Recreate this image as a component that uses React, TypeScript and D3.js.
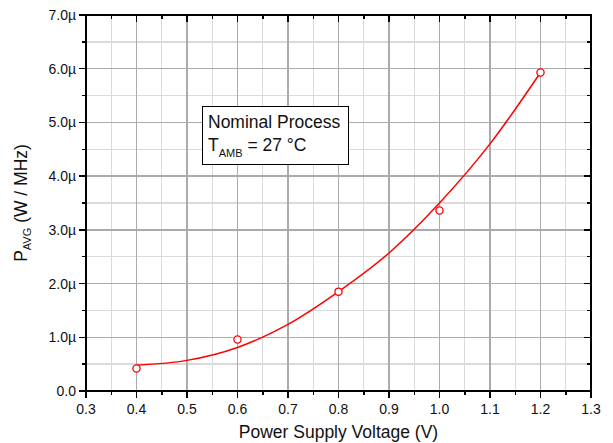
import React from 'react';
import * as d3 from 'd3';

// measured points (µW / MHz) vs supply voltage
const voltage = [0.4, 0.6, 0.8, 1.0, 1.2];
const power = [0.42, 0.96, 1.85, 3.36, 5.93];

// fitted curve
const fitVoltage = [0.4, 0.5, 0.6, 0.7, 0.8, 0.9, 1.0, 1.1, 1.2];
const fitPower = [0.48, 0.57, 0.81, 1.24, 1.85, 2.57, 3.5, 4.6, 5.93];

const xTicks = [0.3, 0.4, 0.5, 0.6, 0.7, 0.8, 0.9, 1.0, 1.1, 1.2, 1.3];
const xMinor = [0.35, 0.45, 0.55, 0.65, 0.75, 0.85, 0.95, 1.05, 1.15, 1.25];
const yTicks = [0, 1, 2, 3, 4, 5, 6, 7];
const yMinor = [0.5, 1.5, 2.5, 3.5, 4.5, 5.5, 6.5];

const W = 613;
const H = 443;
const m = { left: 86, right: 22, top: 15, bottom: 52 };
const font = '"Liberation Sans", Arial, sans-serif';

export default function App() {
  const x = d3.scaleLinear().domain([0.3, 1.3]).range([m.left, W - m.right]);
  const y = d3.scaleLinear().domain([0, 7]).range([H - m.bottom, m.top]);
  const x0 = m.left, x1 = W - m.right, y0 = H - m.bottom, y1 = m.top;

  const line = d3.line<number>()
    .x((d, i) => x(fitVoltage[i]))
    .y((d) => y(d))
    .curve(d3.curveMonotoneX);

  const yLabel = (v: number) => (v === 0 ? '0.0' : d3.format('.1f')(v) + 'µ');

  return (
    <svg width={W} height={H} style={{ position: 'absolute', left: 0, top: 0, background: '#fff' }}>
      {/* grid */}
      <g shapeRendering="crispEdges">
        {xMinor.map((v) => (
          <line key={'xm' + v} x1={x(v)} x2={x(v)} y1={y0} y2={y1} stroke="#dadada" strokeWidth={1.3} />
        ))}
        {yMinor.map((v) => (
          <line key={'ym' + v} x1={x0} x2={x1} y1={y(v)} y2={y(v)} stroke="#dadada" strokeWidth={1.3} />
        ))}
        {xTicks.map((v) => (
          <line key={'xg' + v} x1={x(v)} x2={x(v)} y1={y0} y2={y1} stroke="#ababab" strokeWidth={1.3} />
        ))}
        {yTicks.map((v) => (
          <line key={'yg' + v} x1={x0} x2={x1} y1={y(v)} y2={y(v)} stroke="#ababab" strokeWidth={1.3} />
        ))}
      </g>

      {/* ticks */}
      <g stroke="#000" strokeWidth={1.5} shapeRendering="crispEdges">
        {xTicks.map((v) => (
          <g key={'xt' + v}>
            <line x1={x(v)} x2={x(v)} y1={y0} y2={y0 + 7} />
            <line x1={x(v)} x2={x(v)} y1={y1} y2={y1 + 7} />
          </g>
        ))}
        {xMinor.map((v) => (
          <g key={'xmt' + v}>
            <line x1={x(v)} x2={x(v)} y1={y0} y2={y0 + 4} />
            <line x1={x(v)} x2={x(v)} y1={y1} y2={y1 + 4} />
          </g>
        ))}
        {yTicks.map((v) => (
          <g key={'yt' + v}>
            <line x1={x0 - 7} x2={x0} y1={y(v)} y2={y(v)} />
            <line x1={x1 - 7} x2={x1} y1={y(v)} y2={y(v)} />
          </g>
        ))}
        {yMinor.map((v) => (
          <g key={'ymt' + v}>
            <line x1={x0 - 4} x2={x0} y1={y(v)} y2={y(v)} />
            <line x1={x1 - 4} x2={x1} y1={y(v)} y2={y(v)} />
          </g>
        ))}
        <rect x={x0} y={y1} width={x1 - x0} height={y0 - y1} fill="none" />
      </g>

      {/* tick labels */}
      <g fontFamily={font} fontSize={14} fill="#111">
        {xTicks.map((v) => (
          <text key={'xl' + v} x={x(v)} y={y0 + 23} textAnchor="middle">
            {d3.format('.1f')(v)}
          </text>
        ))}
        {yTicks.map((v) => (
          <text key={'yl' + v} x={x0 - 10} y={y(v) + 5} textAnchor="end">
            {yLabel(v)}
          </text>
        ))}
      </g>

      {/* axis titles */}
      <text x={(x0 + x1) / 2} y={438} textAnchor="middle" fontFamily={font} fontSize={17.5} fill="#111">
        Power Supply Voltage (V)
      </text>
      <text
        transform={`translate(27, ${(y0 + y1) / 2}) rotate(-90)`}
        textAnchor="middle"
        fontFamily={font}
        fontSize={17.5}
        fill="#111"
      >
        P<tspan fontSize={11} dy={4}>AVG</tspan>
        <tspan dy={-4}> (W / MHz)</tspan>
      </text>

      {/* annotation */}
      <rect x={202.5} y={106.5} width={146} height={58} fill="#fff" stroke="#000" strokeWidth={1} />
      <text x={208} y={128} fontFamily={font} fontSize={17.5} fill="#111">Nominal Process</text>
      <text x={208} y={151} fontFamily={font} fontSize={17.5} fill="#111">
        T<tspan fontSize={11} dy={6}>AMB</tspan>
        <tspan dy={-6}> = 27 °C</tspan>
      </text>

      {/* fit curve */}
      <path d={line(fitPower) || ''} fill="none" stroke="#ff0000" strokeWidth={1.5} />

      {/* data points */}
      {voltage.map((v, i) => (
        <circle key={'p' + v} cx={x(v)} cy={y(power[i])} r={3.6} fill="#fff" stroke="#ff0000" strokeWidth={1.3} />
      ))}
    </svg>
  );
}
